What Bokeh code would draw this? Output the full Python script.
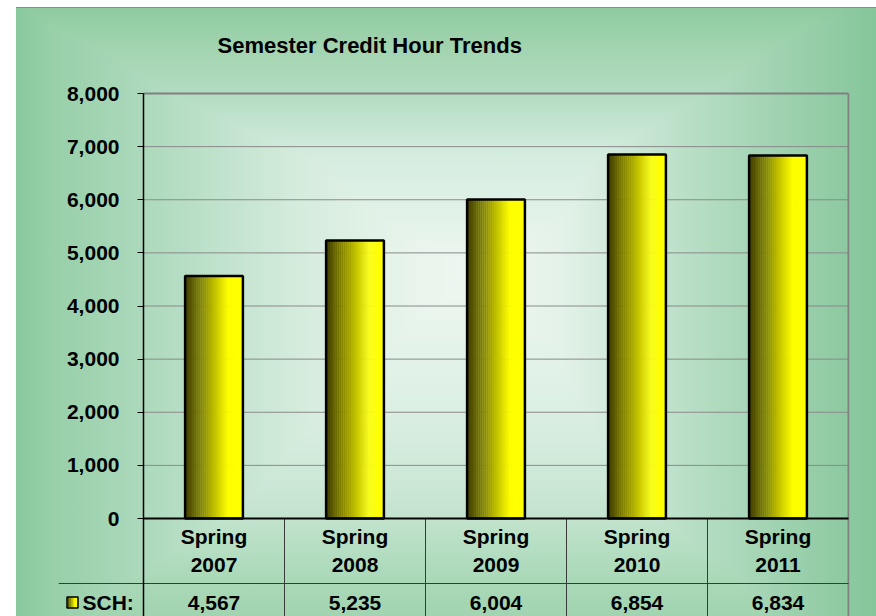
import numpy as np
from bokeh.plotting import figure
from bokeh.models import ColumnDataSource, Range1d, FixedTicker, NumeralTickFormatter
from bokeh.core.properties import value
from bokeh.embed import file_html
from bokeh.resources import INLINE

# ---------------- data ----------------
title_text = "Semester Credit Hour Trends"
categories = ["Spring\n2007", "Spring\n2008", "Spring\n2009", "Spring\n2010", "Spring\n2011"]
series_name = "SCH:"
sch = [4567, 5235, 6004, 6854, 6834]
y_ticks = [0, 1000, 2000, 3000, 4000, 5000, 6000, 7000, 8000]

# ---------------- style / layout ----------------
FONT = "Liberation Sans"
FS = "21px"
BAR_W = 0.41
N_SLICES = 30
PX_X = 141.0                                  # pixels per category
PX_Y = (y_ticks[-1] - y_ticks[0]) / 425.0     # data units per pixel
DARK = np.array([62, 60, 0])
YEL = np.array([255, 255, 0])
LINE_DARK = "#3a3a3a"
BORDER = "#808080"
GRID = "#8a8a8a"


def grad_color(t):
    u = min(t / 0.75, 1.0)
    c = DARK + (YEL - DARK) * u
    return "#%02x%02x%02x" % tuple(int(round(v)) for v in c)


n = len(categories)
xs = [i + 0.5 for i in range(n)]
x_start = -85 / PX_X
x_end = n + 1 / PX_X
y_top = y_ticks[-1] + 18 * PX_Y
y_bot = -98 * PX_Y
y_row = -65 * PX_Y
y_cat = -32 * PX_Y
y_val = -84 * PX_Y

p = figure(width=876, height=616, x_range=Range1d(x_start, x_end), y_range=Range1d(y_bot, y_top),
           output_backend="svg", toolbar_location=None, x_axis_location=None,
           min_border_left=58, min_border_right=27, min_border_top=75, min_border_bottom=0,
           background_fill_color=None, border_fill_color=None, outline_line_color=None)

p.title.text = title_text
p.title.text_font = FONT
p.title.text_font_size = "22px"
p.title.text_font_style = "bold"
p.title.text_color = "black"
p.title.align = "left"
p.title.vertical_align = "middle"
p.title.offset = 159
p.title.standoff = 33

ax = p.yaxis[0]
ax.fixed_location = 0
ax.bounds = (y_bot, y_ticks[-1])
ax.ticker = FixedTicker(ticks=y_ticks)
ax.formatter = NumeralTickFormatter(format="0,0")
ax.major_label_text_font = FONT
ax.major_label_text_font_size = FS
ax.major_label_text_font_style = "bold"
ax.major_label_text_color = "black"
ax.axis_line_color = "black"
ax.axis_line_width = 1.5
ax.major_tick_line_color = "black"
ax.major_tick_out = 6
ax.major_tick_in = 0
ax.minor_tick_line_color = None
ax.major_label_standoff = 18

p.xgrid.visible = False
p.ygrid.visible = False

# horizontal gridlines across the plot area only
inner = y_ticks[1:-1]
p.segment(x0=[0] * len(inner), y0=inner, x1=[n] * len(inner), y1=inner, line_color=GRID, line_width=1)

# gradient bars built as thin slices
sx, stop, scol, swid = [], [], [], []
for c, v in zip(xs, sch):
    for k in range(N_SLICES):
        t = (k + 0.5) / N_SLICES
        sx.append(c - BAR_W / 2 + t * BAR_W)
        stop.append(v)
        scol.append(grad_color(t))
        swid.append(BAR_W / N_SLICES * 1.15)
p.vbar(x="x", top="top", width="w", bottom=0, fill_color="c", line_color=None,
       source=ColumnDataSource(dict(x=sx, top=stop, c=scol, w=swid)))
p.vbar(x=xs, top=sch, width=BAR_W, bottom=0, fill_color=None, line_color="black", line_width=2.5)

# plot-area border (top, right)
p.segment(x0=[0], y0=[y_ticks[-1]], x1=[n], y1=[y_ticks[-1]], line_color=BORDER, line_width=2)
p.segment(x0=[n], y0=[y_bot], x1=[n], y1=[y_ticks[-1]], line_color=BORDER, line_width=2)

# data table lines
p.segment(x0=list(range(1, n)), y0=[0] * (n - 1), x1=list(range(1, n)), y1=[y_bot] * (n - 1),
          line_color=LINE_DARK, line_width=1)
p.segment(x0=[x_start], y0=[y_row], x1=[n], y1=[y_row], line_color=LINE_DARK, line_width=1)
p.segment(x0=[0], y0=[0], x1=[n], y1=[0], line_color="black", line_width=2)

# category labels and values
p.text(x=xs, y=[y_cat] * n, text=categories, text_align="center", text_baseline="middle",
       text_font=value(FONT), text_font_size=value(FS), text_font_style="bold", text_color="black",
       text_line_height=1.2)
p.text(x=xs, y=[y_val] * n, text=[f"{v:,}" for v in sch], text_align="center", text_baseline="middle",
       text_font=value(FONT), text_font_size=value(FS), text_font_style="bold", text_color="black")

# legend key + series name
key_cx = (72 - 143) / PX_X
kx, kc = [], []
for k in range(5):
    kx.append(key_cx + (-4 + 2 * k) / PX_X)
    kc.append(grad_color((k + 0.5) / 5))
p.rect(x=kx, y=[y_val] * 5, width=2.3, height=10, width_units="screen", height_units="screen",
       fill_color=kc, line_color=None)
p.rect(x=[key_cx], y=[y_val], width=11, height=11, width_units="screen", height_units="screen",
       fill_color=None, line_color="black", line_width=1.5)
p.text(x=[(82 - 143) / PX_X], y=[y_val], text=[series_name], text_align="left", text_baseline="middle",
       text_font=value(FONT), text_font_size=value(FS), text_font_style="bold", text_color="black")

p.styles = {
    "background-image": ", ".join([
        "linear-gradient(to right, #ffffff 0px, #ffffff 16px, rgba(255,255,255,0) 16px)",
        "linear-gradient(to bottom, #ffffff 0px, #ffffff 7px, rgba(255,255,255,0) 7px)",
        "linear-gradient(#8c8c8c, #8c8c8c)",
        "linear-gradient(to right, #88c89c 16px, #97cfa8 50px, #acd9bc 143px, #d5ecdd 300px, #e6f3ea 400px, "
        "#eef7f1 470px, #e4f2e9 560px, #b5ddc3 700px, #8fcaa2 840px, #85c69a 876px)",
        "linear-gradient(to bottom, #8fcb9f 8px, #a4d5b2 53px, #b2dcc1 93px, #d6ede0 158px, #eef7f1 270px, "
        "#dff1e6 388px, #cbe7d5 488px, #c2e3cd 518px, #aad9b8 578px, #a2d4b1 616px)",
    ]),
    "background-position": "0 0, 0 0, 16px 7px, 0 0, 0 0",
    "background-size": "100% 100%, 100% 100%, 100% 1px, 100% 100%, 100% 100%",
    "background-repeat": "no-repeat",
    "background-blend-mode": "normal, normal, normal, darken, normal",
}

open("out.html", "w").write(file_html(p, INLINE))
